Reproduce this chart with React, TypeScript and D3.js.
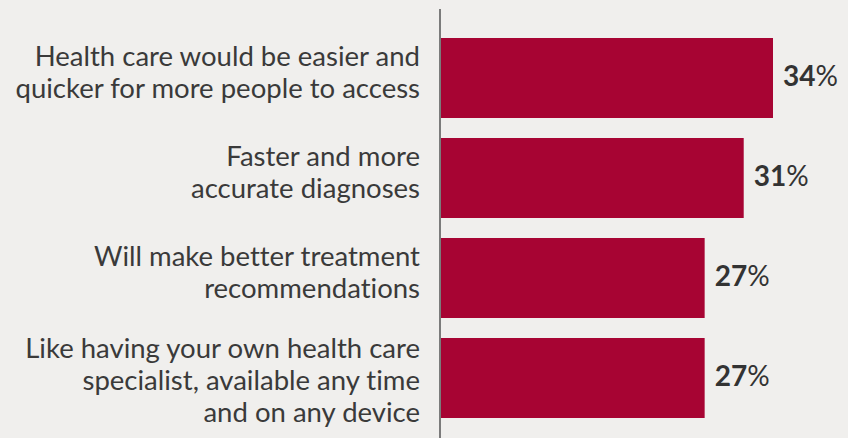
import React from "react";
import * as d3 from "d3";

const categories: string[][] = [
  ["Health care would be easier and", "quicker for more people to access"],
  ["Faster and more", "accurate diagnoses"],
  ["Will make better treatment", "recommendations"],
  ["Like having your own health care", "specialist, available any time", "and on any device"],
];
const values: number[] = [34, 31, 27, 27];
const valueLabels: string[] = ["34", "31", "27", "27"];

const W = 848;
const H = 438;
const AXIS_X = 440;
const FONT = "Lato, 'Noto Sans', sans-serif";

function fitFontSize(text: string, target: number, base: number): number {
  try {
    const c = document.createElement("canvas").getContext("2d");
    if (!c) return base;
    c.font = `${base}px Lato`;
    const w = c.measureText(text).width;
    if (!w) return base;
    return (base * target) / w;
  } catch {
    return base;
  }
}

export default function App() {
  const ids = categories.map((_, i) => String(i));
  const y = d3.scaleBand<string>().domain(ids).range([28, 428]).paddingInner(0.2).paddingOuter(0.1);
  const x = d3.scaleLinear().domain([0, 34]).range([AXIS_X + 1, 773]);
  const lineH = 32;
  const fontSize = Math.min(29, fitFontSize("quicker for more people to access", 406, 28));
  const capH = fontSize * 0.72;
  return (
    <svg width={W} height={H} style={{ position: "absolute", left: 0, top: 0, display: "block" }}>
      <rect x={0} y={0} width={W} height={H} fill="#f0efed" />
      {values.map((v, i) => (
        <rect key={"b" + i} x={x(0)} y={y(ids[i])} width={x(v) - x(0)} height={y.bandwidth()} fill="#a70433" />
      ))}
      <line x1={AXIS_X} x2={AXIS_X} y1={9} y2={H} stroke="#555" strokeWidth={1.5} />
      {categories.map((lines, i) => {
        const top = y(ids[i]) as number;
        const cy = top + y.bandwidth() / 2;
        const n = lines.length;
        let firstBase = cy - ((n - 1) * lineH) / 2 + 4;
        if (firstBase - capH < top) firstBase = top + capH;
        return (
          <text key={"l" + i} textAnchor="end" fontFamily={FONT} fontSize={fontSize} fill="#3a3a3a"
            style={{ fontVariantLigatures: "none" }}>
            {lines.map((t, j) => (
              <tspan key={j} x={420} y={firstBase + j * lineH}>{t}</tspan>
            ))}
          </text>
        );
      })}
      {values.map((v, i) => {
        const cy = (y(ids[i]) as number) + y.bandwidth() / 2;
        return (
          <text key={"v" + i} x={x(v) + 10} y={cy + 8} fontFamily={FONT} fontSize={28} fill="#333">
            <tspan fontWeight={700}>{valueLabels[i]}</tspan>
            <tspan fontWeight={400}>%</tspan>
          </text>
        );
      })}
    </svg>
  );
}
